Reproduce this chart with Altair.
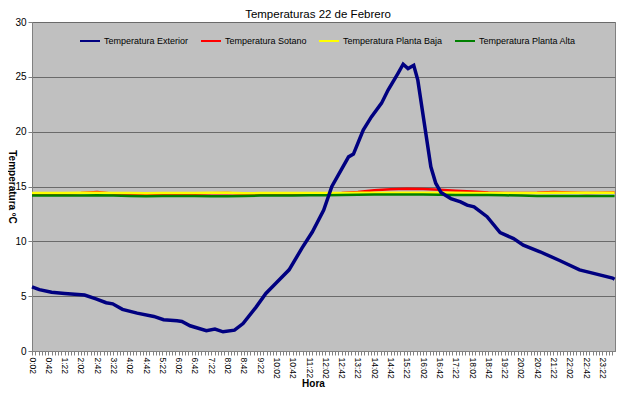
import altair as alt
import pandas as pd

# ---------------- data ----------------
chart_title = ["Temperaturas 22 de Febrero"]

ext_time = ["0:02", "0:20", "0:50", "1:22", "2:11", "2:39", "3:04", "3:20", "3:44", "4:20",
            "5:01", "5:25", "5:58", "6:10", "6:30", "7:10", "7:31", "7:51", "8:19", "8:40",
            "9:12", "9:36", "10:00", "10:33", "11:05", "11:30", "11:58", "12:18", "12:59", "13:11",
            "13:35", "13:55", "14:20", "14:36", "15:00", "15:13", "15:25", "15:39", "15:49", "16:05",
            "16:21", "16:33", "16:46", "17:10", "17:34", "17:50", "18:07", "18:39", "19:11", "19:44",
            "20:08", "20:49", "21:37", "22:26", "22:58", "23:47", "23:52"]
ext_temp = [5.85, 5.6, 5.35, 5.25, 5.1, 4.75, 4.4, 4.3, 3.8, 3.45,
            3.15, 2.85, 2.75, 2.7, 2.3, 1.85, 2.0, 1.75, 1.9, 2.5,
            4.0, 5.25, 6.15, 7.4, 9.4, 10.85, 12.85, 15.0, 17.7, 17.95,
            20.15, 21.35, 22.6, 23.8, 25.3, 26.15, 25.75, 26.05, 24.7, 20.75,
            16.8, 15.3, 14.45, 13.9, 13.6, 13.3, 13.15, 12.25, 10.8, 10.25,
            9.65, 9.05, 8.25, 7.4, 7.1, 6.65, 6.55]

in_time = ["0:02", "0:42", "1:22", "2:02", "2:42", "3:22", "4:02", "4:42", "5:22", "6:02",
           "6:42", "7:22", "8:02", "8:42", "9:22", "10:02", "10:42", "11:22", "12:02", "12:42",
           "13:22", "14:02", "14:42", "15:22", "16:02", "16:42", "17:22", "18:02", "18:42", "19:22",
           "20:02", "20:42", "21:22", "22:02", "22:42", "23:22", "23:52"]
sotano = [14.35, 14.35, 14.35, 14.4, 14.5, 14.35, 14.35, 14.35, 14.35, 14.35,
          14.35, 14.38, 14.4, 14.35, 14.35, 14.35, 14.35, 14.35, 14.38, 14.4,
          14.5, 14.65, 14.75, 14.8, 14.78, 14.7, 14.62, 14.55, 14.45, 14.4,
          14.4, 14.42, 14.5, 14.45, 14.4, 14.42, 14.45]
baja = [14.4, 14.4, 14.4, 14.42, 14.42, 14.4, 14.4, 14.38, 14.4, 14.4,
        14.4, 14.42, 14.42, 14.38, 14.4, 14.4, 14.4, 14.4, 14.4, 14.4,
        14.42, 14.42, 14.42, 14.44, 14.44, 14.42, 14.42, 14.4, 14.4, 14.4,
        14.4, 14.4, 14.42, 14.42, 14.42, 14.42, 14.42]
alta = [14.17, 14.17, 14.17, 14.17, 14.2, 14.17, 14.14, 14.1, 14.14, 14.14,
        14.14, 14.1, 14.1, 14.14, 14.17, 14.17, 14.17, 14.2, 14.2, 14.22,
        14.24, 14.26, 14.26, 14.26, 14.26, 14.24, 14.22, 14.22, 14.22, 14.2,
        14.17, 14.14, 14.14, 14.14, 14.14, 14.14, 14.14]

tick_labels = ["0:02", "0:42", "1:22", "2:02", "2:42", "3:22", "4:02", "4:42", "5:22", "6:02",
               "6:42", "7:22", "8:02", "8:42", "9:22", "10:02", "10:42", "11:22", "12:02", "12:42",
               "13:22", "14:02", "14:42", "15:22", "16:02", "16:42", "17:22", "18:02", "18:42", "19:22",
               "20:02", "20:42", "21:22", "22:02", "22:42", "23:22"]

series = ["Temperatura Exterior", "Temperatura Sotano", "Temperatura Planta Baja", "Temperatura Planta Alta"]
colors = ["#000080", "#FF0000", "#FFFF00", "#008000"]


def to_min(s):
    h, m = s.split(":")
    return int(h) * 60 + int(m)


rows = []
for t, v in zip(ext_time, ext_temp):
    rows.append({"serie": series[0], "min": to_min(t), "temp": v})
for name, vals in zip(series[1:], [sotano, baja, alta]):
    for t, v in zip(in_time, vals):
        rows.append({"serie": name, "min": to_min(t), "temp": v})
df = pd.DataFrame(rows)

label_mins = [to_min(s) for s in tick_labels]
minor_ticks = list(range(label_mins[0], 1433, 8))

FONT = "Liberation Sans, Arial, sans-serif"

x = alt.X(
    "min:Q",
    scale=alt.Scale(domain=[2, 1433], nice=False, zero=False),
    axis=alt.Axis(
        values=minor_ticks,
        labelExpr="(datum.value - 2) % 40 == 0 ? (floor(datum.value / 60) + ':' + (datum.value % 60 < 10 ? '0' : '') + (datum.value % 60)) : ''",
        labelAngle=90, labelAlign="left", labelBaseline="middle",
        labelPadding=2, labelFontSize=8.5, labelOverlap=False, labelFlush=False,
        tickSize=4, tickColor="#808080", domainColor="#808080",
        grid=False,
        title="Hora", titleFontWeight="bold", titleFontSize=10,
        titleY=32, titleX=281, titleAlign="center", titleBaseline="middle",
    ),
)
y = alt.Y(
    "temp:Q",
    scale=alt.Scale(domain=[0, 30], nice=False),
    axis=alt.Axis(
        values=[0, 5, 10, 15, 20, 25, 30],
        labelFontSize=10, labelPadding=2, tickSize=4,
        tickColor="#808080", domainColor="#808080",
        grid=True, gridColor="#6a6a6a", gridWidth=1,
        title="Temperatura ºC", titleAngle=90, titleFontWeight="bold", titleFontSize=10,
        titleX=-21, titleY=164.5, titleAlign="center", titleBaseline="middle",
    ),
)
color = alt.Color(
    "serie:N",
    scale=alt.Scale(domain=series, range=colors),
    legend=alt.Legend(
        orient="none", legendX=47, legendY=8, direction="horizontal", title=None,
        symbolType="stroke", symbolSize=400, symbolStrokeWidth=2,
        labelFontSize=9, labelOffset=3, columnPadding=8,
    ),
)

base = alt.Chart(df).encode(x=x, y=y, color=color)
draw = [(series[1], 2.5), (series[2], 2.5), (series[3], 2.5), (series[0], 3.5)]
layers = [base.transform_filter(alt.datum.serie == s).mark_line(strokeWidth=w) for s, w in draw]

title_layer = alt.Chart(pd.DataFrame({"t": chart_title})).mark_text(
    fontSize=11.5, font=FONT, color="black", align="center", baseline="middle"
).encode(text="t:N", x=alt.value(286), y=alt.value(-7))

chart = (
    alt.layer(*layers, title_layer)
    .properties(
        width=583, height=329,
        autosize=alt.AutoSizeParams(type="none"),
        padding={"left": 24, "top": 14, "right": 10, "bottom": 37},
    )
    .configure(background="white")
    .configure_view(fill="#C0C0C0", stroke="#808080", strokeWidth=1)
    .configure_axis(labelFont=FONT, titleFont=FONT, labelColor="black", titleColor="black")
    .configure_legend(labelFont=FONT, labelColor="black")
)

chart.save("out.html", embed_options={"renderer": "svg", "actions": False})
